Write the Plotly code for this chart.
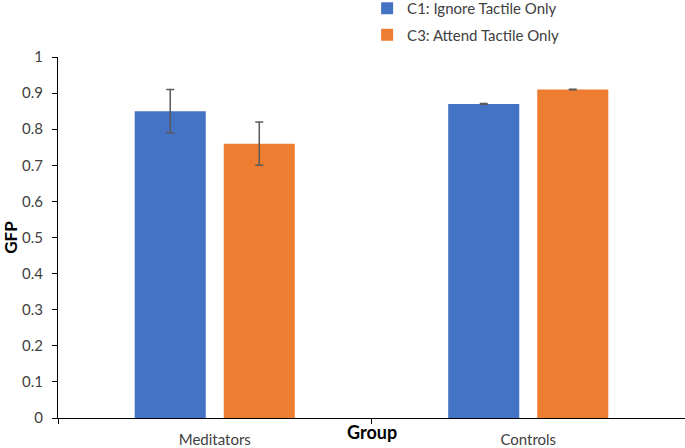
import plotly.graph_objects as go

groups = ["Meditators", "Controls"]
c1_values = [0.85, 0.87]
c1_errors = [0.06, 0.001]
c3_values = [0.76, 0.91]
c3_errors = [0.06, 0.001]
y_ticks = [0, 0.1, 0.2, 0.3, 0.4, 0.5, 0.6, 0.7, 0.8, 0.9, 1]
y_tick_labels = ["0", "0.1", "0.2", "0.3", "0.4", "0.5", "0.6", "0.7", "0.8", "0.9", "1"]

FONT = "Lato, 'Open Sans', sans-serif"
err_style = dict(type="data", color="#595959", thickness=1.5, width=4)

fig = go.Figure()
fig.add_trace(go.Bar(x=groups, y=c1_values, name="C1: Ignore Tactile Only",
                     marker=dict(color="#4472C4", line=dict(width=0)),
                     error_y=dict(array=c1_errors, **err_style), legendgroup="a"))
fig.add_trace(go.Bar(x=groups, y=c3_values, name="C3: Attend Tactile Only",
                     marker=dict(color="#ED7D31", line=dict(width=0)),
                     error_y=dict(array=c3_errors, **err_style), legendgroup="b"))

fig.update_layout(
    width=685, height=448,
    margin=dict(l=58, r=0, t=57, b=30, autoexpand=False),
    paper_bgcolor="white", plot_bgcolor="white",
    barmode="group", bargap=0.432, bargroupgap=0.202,
    font=dict(family=FONT, size=15, color="#404040"),
    legend=dict(x=0.493, y=1.18, xanchor="left", yanchor="top",
                orientation="v", tracegroupgap=4,
                font=dict(family=FONT, size=15, color="#404040"),
                itemwidth=30, bgcolor="rgba(0,0,0,0)"),
    showlegend=True,
)
fig.update_xaxes(
    type="category", range=[-0.5, 1.5], automargin=False,
    showline=True, linecolor="black", linewidth=1.2,
    ticks="outside", tickson="boundaries", ticklen=5, tickcolor="black",
    ticklabelstandoff=8,
    tickfont=dict(family=FONT, size=15, color="#404040"),
    showgrid=False, zeroline=False,
)
fig.update_yaxes(
    range=[0, 1], tickvals=y_ticks, ticktext=y_tick_labels, automargin=False,
    showline=True, linecolor="black", linewidth=1.2,
    ticks="outside", ticklen=5, tickcolor="black",
    ticklabelstandoff=6,
    tickfont=dict(family=FONT, size=15, color="#404040"),
    showgrid=False, zeroline=False,
    title=dict(text="<b>GFP</b>", font=dict(family=FONT, size=17, color="black"), standoff=5),
)
fig.add_annotation(text="<b>Group</b>", xref="paper", yref="paper",
                   x=(372 - 58) / 627, y=-0.04, xanchor="center", yanchor="middle",
                   showarrow=False, font=dict(family=FONT, size=18, color="black"))

fig.write_html("out.html", config={"displayModeBar": False},
               post_script="document.body.style.margin='0';")
